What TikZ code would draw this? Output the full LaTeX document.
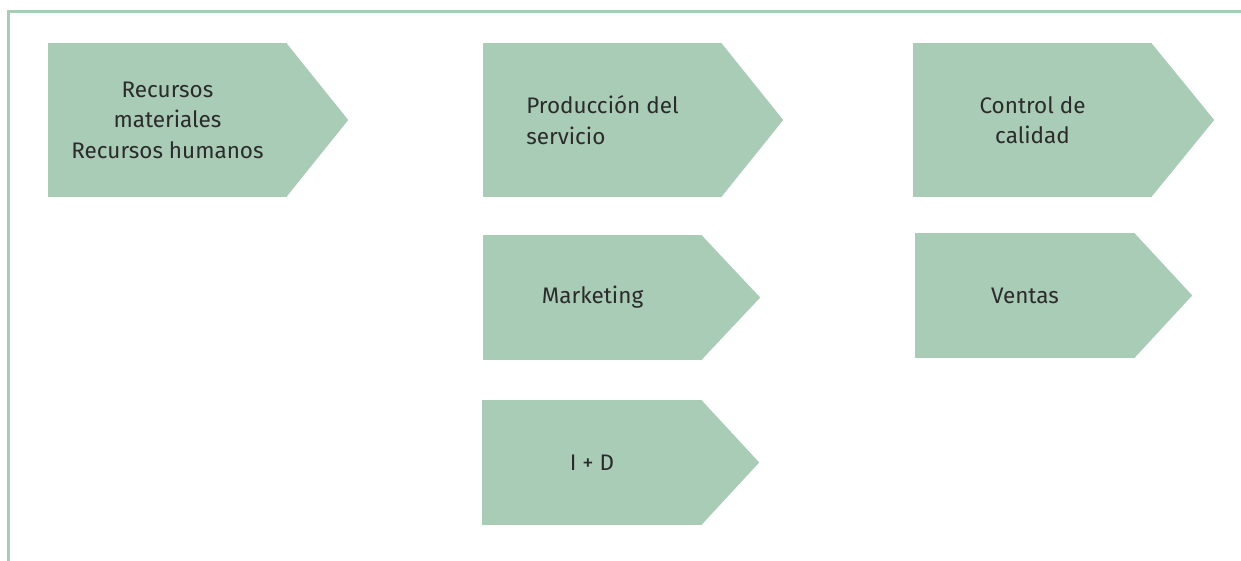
\documentclass[tikz,border=0pt]{standalone}
\usepackage{fontspec}
\setmainfont{Fira Sans}
\usepackage{xcolor}
\usetikzlibrary{calc}
\definecolor{leaf}{HTML}{A9CCB6}
\definecolor{ink}{HTML}{2B2B2B}
\tikzset{
  frame/.style={draw=leaf, line width=2.4pt},
  stage/.style={fill=leaf, inner sep=0pt, text=ink, align=center,
    font=\fontsize{22.5}{30.5}\selectfont},
  tall/.style={minimum height=154},
  flat/.style={minimum height=125},
  tip/.style={fill=leaf},
}
\begin{document}
\begin{tikzpicture}[x=1pt,y=-1pt]
  \useasboundingbox (0,0) rectangle (1241,561);
  \draw[frame] (8.5,561) -- (8.5,11.5) -- (1241,11.5);
  % top row
  \node[stage, tall, minimum width=239] (rec) at (167.5,120) {Recursos\\materiales\\Recursos humanos};
  \node[stage, tall, minimum width=239, align=left] (prod) at (602.5,120) {Producción del\\servicio};
  \node[stage, tall, minimum width=239] (ctrl) at (1032.5,120) {Control de\\calidad};
  % lower rows
  \node[stage, flat, minimum width=219] (mkt) at (592.5,297.5) {Marketing};
  \node[stage, flat, minimum width=220] (id) at (592,462.5) {I + D};
  \node[stage, flat, minimum width=220] (vent) at (1025,295.5) {Ventas};
  % arrow points
  \foreach \n/\l in {rec/61,prod/61,ctrl/62,mkt/58,id/57,vent/57}
    \fill[tip] ($(\n.north east)+(-1,0)$) -- ($(\n.east)+(\l,0)$) -- ($(\n.south east)+(-1,0)$) -- cycle;
\end{tikzpicture}
\end{document}
